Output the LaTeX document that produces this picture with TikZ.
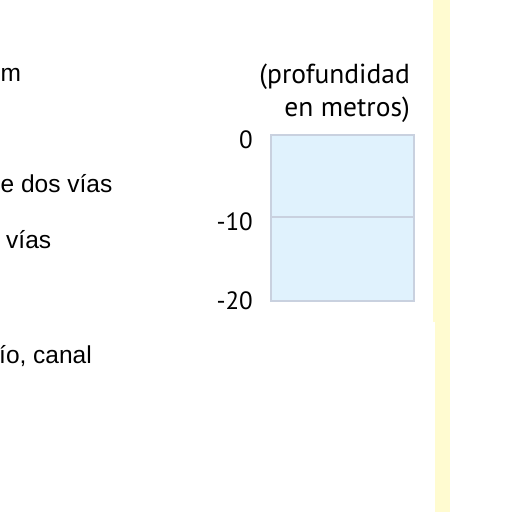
\documentclass[tikz,border=0pt]{standalone}
\usepackage{fontspec}
\setmainfont{Liberation Sans}
\newfontfamily\myr{PT Sans}
\definecolor{stripyellow}{HTML}{FFFBD0}
\definecolor{boxfill}{HTML}{E0F2FD}
\definecolor{boxline}{HTML}{C9D1DF}
\begin{document}
\begin{tikzpicture}[x=1pt,y=-1pt,
  lefttext/.style={anchor=base west,inner sep=0pt,font=\fontsize{24.5}{28}\selectfont,text=black},
  depthlabel/.style={anchor=base east,inner sep=0pt,font=\myr\fontsize{25}{28}\selectfont,text=black},
  headtext/.style={anchor=base east,inner sep=0pt,font=\myr\fontsize{27.5}{31}\selectfont,text=black},
  depthbox/.style={fill=boxfill,draw=boxline,line width=1.8pt}]
\useasboundingbox (0,0) rectangle (512,512);
\clip (0,0) rectangle (512,512);
% yellow strip
\fill[stripyellow] (433,0) rectangle (450,322);
\fill[stripyellow] (435,322) rectangle (450,512);
% left texts (cut off)
\node[lefttext] (t1) at (0.5,81) {m};
\node[lefttext] (t2) at (0.5,192) {e dos vías};
\node[lefttext] (t3) at (6,248) {vías};
\node[lefttext] (t4) at (-1,363) {ío, canal};
% heading
\node[headtext] (h1) at (410,83) {(profundidad};
\node[headtext] (h2) at (410,116) {en metros)};
% depth box
\node[depthbox,minimum width=143pt,minimum height=82pt,anchor=north west,inner sep=0pt] (b1) at (270,134) {};
\node[depthbox,minimum width=143pt,minimum height=84pt,anchor=north west,inner sep=0pt] (b2) at (270,216) {};
% labels
\node[depthlabel] (d0) at (253,148) {0};
\node[depthlabel] (d10) at (253,230) {-10};
\node[depthlabel] (d20) at (253,309) {-20};
\end{tikzpicture}
\end{document}
